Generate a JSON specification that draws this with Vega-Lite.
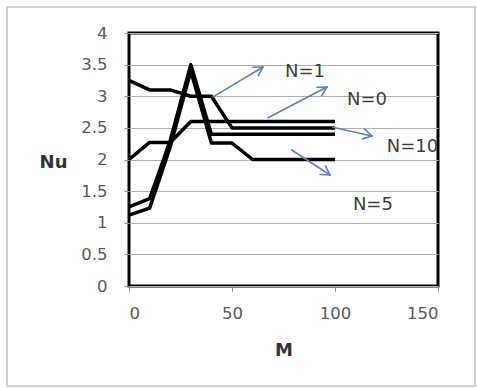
{
  "$schema": "https://vega.github.io/schema/vega-lite/v6.json",
  "autosize": "none",
  "width": 309,
  "height": 253,
  "padding": {"left": 129, "top": 33, "right": 39, "bottom": 102},
  "background": "white",
  "config": {
    "font": "DejaVu Sans",
    "view": {"stroke": "black", "strokeWidth": 3},
    "axis": {"labelFont": "DejaVu Sans", "labelFontSize": 16.5, "labelColor": "#595959", "tickColor": "#888888", "tickSize": 5, "domain": false, "titleFont": "DejaVu Sans", "labelOverlap": false, "format": ".1~f"},
    "axisX": {"grid": false, "titleFontSize": 18, "titleFontWeight": "bold", "titleColor": "#333333", "titleY": 64, "titleBaseline": "middle", "labelPadding": 14},
    "axisY": {"grid": true, "gridColor": "#b0b0b0", "gridWidth": 1, "titleAngle": 0, "titleX": -76, "titleY": 129, "titleAlign": "center", "titleBaseline": "middle", "titleFontSize": 18, "titleFontWeight": "bold", "titleColor": "#333333", "labelPadding": 17}
  },
  "datasets": {
    "frame": [{"x": -59.2, "x2": 168.0, "y": -1.58, "y2": 4.41}],
    "series": [
      {"M": 0, "Nu": 3.25, "series": "N=1"},
      {"M": 10, "Nu": 3.1, "series": "N=1"},
      {"M": 20, "Nu": 3.1, "series": "N=1"},
      {"M": 30, "Nu": 3.0, "series": "N=1"},
      {"M": 40, "Nu": 3.0, "series": "N=1"},
      {"M": 50, "Nu": 2.5, "series": "N=1"},
      {"M": 60, "Nu": 2.5, "series": "N=1"},
      {"M": 70, "Nu": 2.5, "series": "N=1"},
      {"M": 80, "Nu": 2.5, "series": "N=1"},
      {"M": 90, "Nu": 2.5, "series": "N=1"},
      {"M": 100, "Nu": 2.5, "series": "N=1"},
      {"M": 0, "Nu": 2.0, "series": "N=0"},
      {"M": 10, "Nu": 2.27, "series": "N=0"},
      {"M": 20, "Nu": 2.27, "series": "N=0"},
      {"M": 30, "Nu": 2.6, "series": "N=0"},
      {"M": 40, "Nu": 2.6, "series": "N=0"},
      {"M": 50, "Nu": 2.6, "series": "N=0"},
      {"M": 60, "Nu": 2.6, "series": "N=0"},
      {"M": 70, "Nu": 2.6, "series": "N=0"},
      {"M": 80, "Nu": 2.6, "series": "N=0"},
      {"M": 90, "Nu": 2.6, "series": "N=0"},
      {"M": 100, "Nu": 2.6, "series": "N=0"},
      {"M": 0, "Nu": 1.25, "series": "N=10"},
      {"M": 10, "Nu": 1.38, "series": "N=10"},
      {"M": 20, "Nu": 2.3, "series": "N=10"},
      {"M": 30, "Nu": 3.5, "series": "N=10"},
      {"M": 40, "Nu": 2.4, "series": "N=10"},
      {"M": 50, "Nu": 2.4, "series": "N=10"},
      {"M": 60, "Nu": 2.4, "series": "N=10"},
      {"M": 70, "Nu": 2.4, "series": "N=10"},
      {"M": 80, "Nu": 2.4, "series": "N=10"},
      {"M": 90, "Nu": 2.4, "series": "N=10"},
      {"M": 100, "Nu": 2.4, "series": "N=10"},
      {"M": 0, "Nu": 1.12, "series": "N=5"},
      {"M": 10, "Nu": 1.23, "series": "N=5"},
      {"M": 20, "Nu": 2.2, "series": "N=5"},
      {"M": 30, "Nu": 3.4, "series": "N=5"},
      {"M": 40, "Nu": 2.26, "series": "N=5"},
      {"M": 50, "Nu": 2.26, "series": "N=5"},
      {"M": 60, "Nu": 2.0, "series": "N=5"},
      {"M": 70, "Nu": 2.0, "series": "N=5"},
      {"M": 80, "Nu": 2.0, "series": "N=5"},
      {"M": 90, "Nu": 2.0, "series": "N=5"},
      {"M": 100, "Nu": 2.0, "series": "N=5"}
    ],
    "arrows": [
      {"x": 40.8, "y": 2.99, "x2": 65.05, "y2": 3.462},
      {"x": 60.2, "y": 3.459, "x2": 65.05, "y2": 3.462},
      {"x": 62.7, "y": 3.325, "x2": 65.05, "y2": 3.462},
      {"x": 67.5, "y": 2.66, "x2": 96.1, "y2": 3.146},
      {"x": 91.3, "y": 3.14, "x2": 96.1, "y2": 3.146},
      {"x": 93.5, "y": 3.01, "x2": 96.1, "y2": 3.146},
      {"x": 99.0, "y": 2.51, "x2": 117.96, "y2": 2.372},
      {"x": 114.4, "y": 2.479, "x2": 117.96, "y2": 2.372},
      {"x": 113.3, "y": 2.326, "x2": 117.96, "y2": 2.372},
      {"x": 79.0, "y": 2.15, "x2": 97.6, "y2": 1.755},
      {"x": 95.4, "y": 1.896, "x2": 97.6, "y2": 1.755},
      {"x": 92.7, "y": 1.764, "x2": 97.6, "y2": 1.755}
    ],
    "labels": [
      {"x": 85.4, "y": 3.38, "text": "N=1"},
      {"x": 115.5, "y": 2.94, "text": "N=0"},
      {"x": 137.6, "y": 2.2, "text": "N=10"},
      {"x": 118.4, "y": 1.28, "text": "N=5"}
    ]
  },
  "layer": [
    {
      "data": {"name": "frame"},
      "mark": {"type": "rect", "fill": null, "stroke": "#c0c0c0", "strokeWidth": 1.5, "clip": false},
      "encoding": {
        "x": {"field": "x", "type": "quantitative", "scale": {"domain": [0, 150], "nice": false}, "axis": {"values": [0, 50, 100, 150], "title": "M"}},
        "x2": {"field": "x2"},
        "y": {"field": "y", "type": "quantitative", "scale": {"domain": [0, 4], "nice": false}, "axis": {"values": [0, 0.5, 1, 1.5, 2, 2.5, 3, 3.5, 4], "title": "Nu"}},
        "y2": {"field": "y2"}
      }
    },
    {
      "data": {"name": "series"},
      "mark": {"type": "line", "color": "black", "strokeWidth": 3.5, "strokeJoin": "round"},
      "encoding": {
        "x": {"field": "M", "type": "quantitative", "axis": {"values": [0, 50, 100, 150], "title": "M"}},
        "y": {"field": "Nu", "type": "quantitative", "axis": {"values": [0, 0.5, 1, 1.5, 2, 2.5, 3, 3.5, 4], "title": "Nu"}},
        "detail": {"field": "series"}
      }
    },
    {
      "data": {"name": "arrows"},
      "mark": {"type": "rule", "color": "#5b82c0", "strokeWidth": 1.6, "strokeCap": "round"},
      "encoding": {
        "x": {"field": "x", "type": "quantitative", "axis": {"values": [0, 50, 100, 150], "title": "M"}},
        "y": {"field": "y", "type": "quantitative", "axis": {"values": [0, 0.5, 1, 1.5, 2, 2.5, 3, 3.5, 4], "title": "Nu"}},
        "x2": {"field": "x2"},
        "y2": {"field": "y2"}
      }
    },
    {
      "data": {"name": "labels"},
      "mark": {"type": "text", "fontSize": 18, "color": "#404040", "align": "center", "baseline": "middle", "font": "DejaVu Sans"},
      "encoding": {
        "x": {"field": "x", "type": "quantitative", "axis": {"values": [0, 50, 100, 150], "title": "M"}},
        "y": {"field": "y", "type": "quantitative", "axis": {"values": [0, 0.5, 1, 1.5, 2, 2.5, 3, 3.5, 4], "title": "Nu"}},
        "text": {"field": "text"}
      }
    }
  ]
}
